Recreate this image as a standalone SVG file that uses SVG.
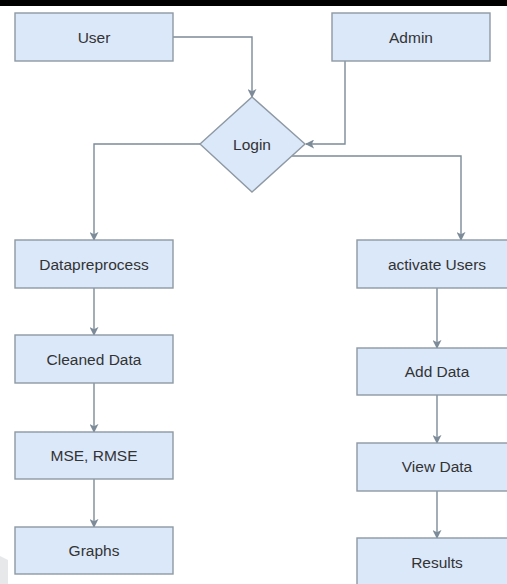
<svg xmlns="http://www.w3.org/2000/svg" width="507" height="584" viewBox="0 0 507 584">
<defs>
<marker id="arr" viewBox="0 0 10 10" refX="9" refY="5" markerWidth="9" markerHeight="9" markerUnits="userSpaceOnUse" orient="auto">
<path d="M0,0 L10,5 L0,10 L2.5,5 Z" fill="#7d8b99"/>
</marker>
</defs>
<style>
.box{fill:#dbe8fa;stroke:#8e99a4;stroke-width:1.4}
.lbl{font-family:"Liberation Sans",Arial,sans-serif;font-size:15.5px;fill:#333;text-anchor:middle}
.con{fill:none;stroke:#7d8b99;stroke-width:1.4;marker-end:url(#arr)}
</style>
<rect x="0" y="0" width="507" height="584" fill="#ffffff"/>
<rect x="0" y="0" width="507" height="6" fill="#000000"/>
<polygon points="0,556 8,560 8,584 0,584" fill="#e6e8ea"/>
<g id="connectors">
<polyline class="con" points="173,37 252,37 252,97"/>
<polyline class="con" points="345,61 345,144 306,144"/>
<polyline class="con" points="200,144 94,144 94,240"/>
<polyline class="con" points="292,156 461,156 461,240"/>
<polyline class="con" points="94,288 94,335"/>
<polyline class="con" points="94,383 94,432"/>
<polyline class="con" points="94,479 94,527"/>
<polyline class="con" points="437,288 437,348"/>
<polyline class="con" points="437,395 437,443"/>
<polyline class="con" points="437,491 437,538"/>
</g>
<g id="user"><rect class="box" x="15" y="13" width="158" height="48"/><text class="lbl" x="94" y="43">User</text></g>
<g id="admin"><rect class="box" x="332" y="13" width="158" height="48"/><text class="lbl" x="411" y="43">Admin</text></g>
<g id="login"><polygon class="box" points="252,97 305,144 252,192 200,144"/><text class="lbl" x="252" y="150">Login</text></g>
<g id="datapreprocess"><rect class="box" x="15" y="240" width="158" height="48"/><text class="lbl" x="94" y="270">Datapreprocess</text></g>
<g id="cleaned"><rect class="box" x="15" y="335" width="158" height="48"/><text class="lbl" x="94" y="365">Cleaned Data</text></g>
<g id="mse"><rect class="box" x="15" y="432" width="158" height="47"/><text class="lbl" x="94" y="461">MSE, RMSE</text></g>
<g id="graphs"><rect class="box" x="15" y="527" width="158" height="47"/><text class="lbl" x="94" y="556">Graphs</text></g>
<g id="activate"><rect class="box" x="357" y="240" width="159" height="48"/><text class="lbl" x="437" y="270">activate Users</text></g>
<g id="adddata"><rect class="box" x="357" y="348" width="159" height="47"/><text class="lbl" x="437" y="377">Add Data</text></g>
<g id="viewdata"><rect class="box" x="357" y="443" width="159" height="48"/><text class="lbl" x="437" y="472">View Data</text></g>
<g id="results"><rect class="box" x="357" y="538" width="159" height="50"/><text class="lbl" x="437" y="568">Results</text></g>
</svg>
